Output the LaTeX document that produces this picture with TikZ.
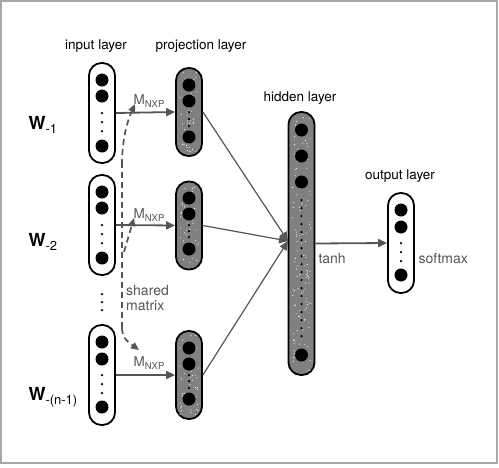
\documentclass[tikz,border=0pt]{standalone}
\usepackage{fontspec}
\setmainfont{TeX Gyre Heros}
\usetikzlibrary{arrows.meta}
\definecolor{arrowgray}{HTML}{555555}
\definecolor{boxgray}{HTML}{808080}
\definecolor{framegray}{HTML}{A8A8A8}
\newcommand{\Wlab}[1]{{\fontsize{18}{18}\selectfont\textbf{W}}\raisebox{-4pt}{\fontsize{13}{13}\selectfont #1}}
\newcommand{\Mlab}{{\fontsize{13.5}{13.5}\selectfont M}\raisebox{-3.5pt}{\fontsize{9.5}{9.5}\selectfont NXP}}
\begin{document}
\begin{tikzpicture}[x=1pt,y=-1pt,
  layerbox/.style={draw=black, line width=1.8pt, rounded corners=12.5pt, minimum width=26pt, inner sep=0pt},
  projbox/.style={layerbox, fill=boxgray},
  neuron/.style={circle, fill=black, inner sep=0pt, minimum size=13pt},
  smalldot/.style={circle, fill=black, inner sep=0pt, minimum size=2.5pt},
  layertext/.style={font=\fontsize{13.5}{14}\selectfont, text=black},
  graytext/.style={font=\fontsize{14}{15}\selectfont, text=arrowgray},
  mainarrow/.style={draw=arrowgray, line width=1.8pt, -{Triangle[length=9pt,width=8pt]}},
  thinarrow/.style={draw=arrowgray, line width=1.2pt, -{Triangle[length=9pt,width=8pt]}},
  sharedline/.style={draw=arrowgray, line width=1.7pt, dash pattern=on 6pt off 4pt},
  sharedarrow/.style={sharedline, -{Triangle[length=8pt,width=7pt]}}
]
\useasboundingbox (0,0) rectangle (499,467);
\draw[framegray, line width=2pt] (1,1) rectangle (497,463);

% labels
\node[layertext] (tin) at (96,46) {input layer};
\node[layertext] (tproj) at (201,46) {projection layer};
\node[layertext] (thid) at (300,98) {hidden layer};
\node[layertext] (tout) at (400,176) {output layer};

\node[anchor=west] (w1) at (25,125) {\Wlab{-1}};
\node[anchor=west] (w2) at (25,242) {\Wlab{-2}};
\node[anchor=west] (w3) at (25,397) {\Wlab{-(n-1)}};

% boxes
\node[layerbox, minimum height=100pt] (in1) at (102,113) {};
\node[layerbox, minimum height=100pt] (in2) at (102,225) {};
\node[layerbox, minimum height=100pt] (in3) at (102,375) {};
\node[projbox, minimum height=88pt] (pr1) at (189,112) {};
\node[projbox, minimum height=88pt] (pr2) at (189,225.5) {};
\node[projbox, minimum height=88pt] (pr3) at (189,375) {};
\node[projbox, minimum height=263pt] (hid) at (301.5,243.5) {};
\node[layerbox, minimum height=100pt] (out) at (401,243) {};

% speckle in the grey boxes
\pgfmathsetseed{7}
\foreach \cx/\cy/\h/\n in {189/112/80/45, 189/225.5/80/45, 189/375/80/45, 301.5/243.5/255/140}{
  \foreach \k in {1,...,\n}{
    \pgfmathsetmacro{\rx}{\cx+9.5*rand}
    \pgfmathsetmacro{\ry}{\cy+0.5*\h*rand}
    \fill[white] (\rx,\ry) circle (0.55pt);
  }
}

% neurons
\foreach \y [count=\i] in {80,96,146} \node[neuron] (ina\i) at (102,\y) {};
\foreach \y [count=\i] in {113,122,131} \node[smalldot] (inad\i) at (102,\y) {};
\foreach \y [count=\i] in {192,208,258} \node[neuron] (inb\i) at (102,\y) {};
\foreach \y [count=\i] in {225,234,243} \node[smalldot] (inbd\i) at (102,\y) {};
\foreach \y [count=\i] in {342,359,407} \node[neuron] (inc\i) at (102,\y) {};
\foreach \y [count=\i] in {375,384,393} \node[smalldot] (incd\i) at (102,\y) {};
\foreach \y [count=\i] in {294,302,310} \node[smalldot] (gapd\i) at (102,\y) {};

\foreach \y [count=\i] in {85,101,137} \node[neuron] (pra\i) at (189,\y) {};
\foreach \y [count=\i] in {112,119,126} \node[smalldot] (prad\i) at (189,\y) {};
\foreach \y [count=\i] in {198,214,249} \node[neuron] (prb\i) at (189,\y) {};
\foreach \y [count=\i] in {225,231,237} \node[smalldot] (prbd\i) at (189,\y) {};
\foreach \y [count=\i] in {348,364,399} \node[neuron] (prc\i) at (189,\y) {};
\foreach \y [count=\i] in {375,381,388} \node[smalldot] (prcd\i) at (189,\y) {};

\foreach \y [count=\i] in {130,156,182,355} \node[neuron] (hn\i) at (301.5,\y) {};
\foreach \y [count=\i] in {200,208,...,340} \node[smalldot] (hd\i) at (301.5,\y) {};

\foreach \y [count=\i] in {210,227,275} \node[neuron] (on\i) at (401,\y) {};
\foreach \y [count=\i] in {243,252,261} \node[smalldot] (od\i) at (401,\y) {};

% projection arrows
\draw[mainarrow] (in1.east) -- (pr1.west);
\draw[mainarrow] (in2.east) -- (pr2.west);
\draw[mainarrow] (in3.east) -- (pr3.west);

\node[graytext] (m1) at (149,101) {\Mlab};
\node[graytext] (m2) at (149,215) {\Mlab};
\node[graytext] (m3) at (149,363) {\Mlab};

% to hidden
\coordinate (hin) at (288,241);
\draw[thinarrow] (pr1.east) -- (hin);
\draw[thinarrow] (pr2.east) -- (hin);
\draw[thinarrow] (pr3.east) -- (hin);

% to output
\draw[mainarrow] (hid.east) -- (out.west);
\node[graytext, anchor=west] (tanh) at (315,258) {tanh};
\node[graytext, anchor=west] (soft) at (415,258) {softmax};

% shared matrix
\coordinate (sTop) at (122,165);
\coordinate (sBot) at (122,328);
\coordinate (tipA) at (135,104);
\coordinate (tipB) at (134,218);
\coordinate (tipC) at (139,350);
\coordinate (midB) at (124,252);
\draw[sharedline] (sBot) -- (sTop);
\draw[sharedarrow] (sTop) .. controls (122,140) and (127,122) .. (tipA);
\draw[sharedarrow] (midB) -- (tipB);
\draw[sharedarrow] (sBot) .. controls (122,338) and (128,342) .. (tipC);
\node[graytext, anchor=west, align=left, inner sep=1pt] (shared) at (125,298) {shared\\matrix};
\end{tikzpicture}
\end{document}
